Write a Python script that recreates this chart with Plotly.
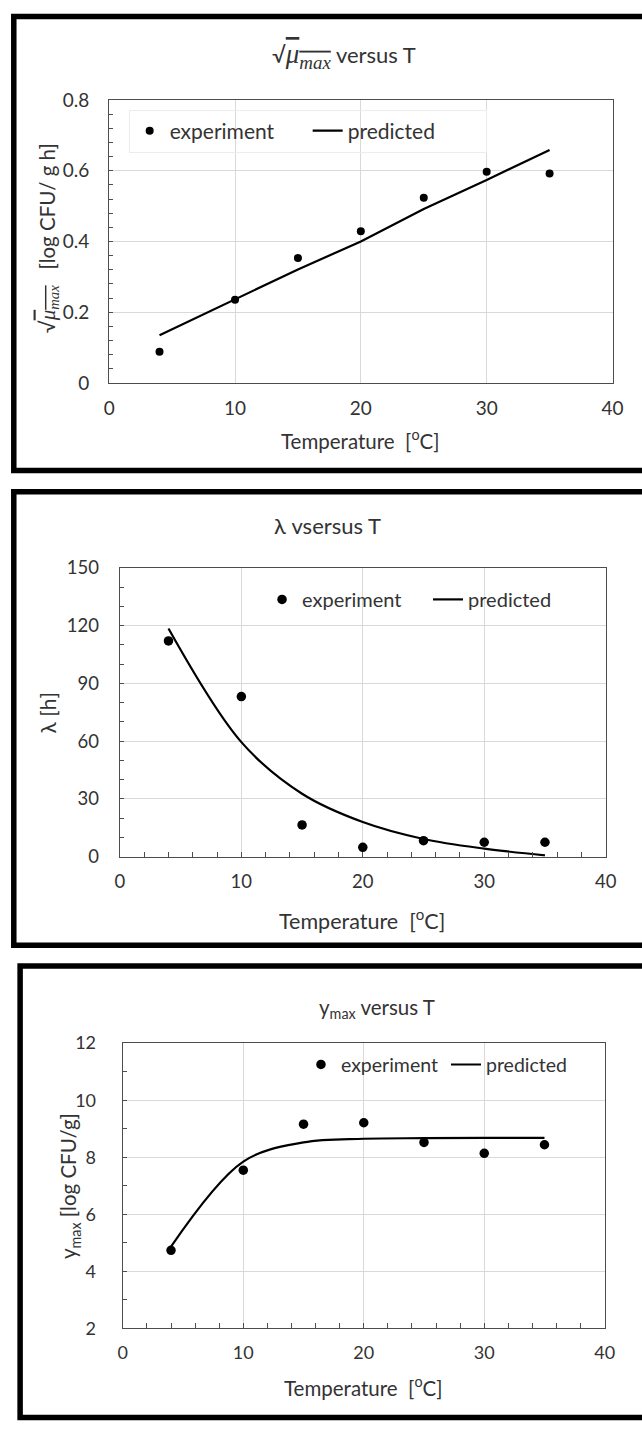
import plotly.graph_objects as go

W, H = 642, 1431

# ---------------- data ----------------
temp = [4, 10, 15, 20, 25, 30, 35]
mu_exp = [0.088, 0.235, 0.353, 0.429, 0.524, 0.597, 0.592]
mu_pred = [0.135, 0.237, 0.321, 0.400, 0.492, 0.574, 0.659]
lag_exp = [112.1, 83.2, 16.5, 4.9, 8.3, 7.5, 7.5]
lag_pred = [118.5, 59.5, 32.7, 18.0, 9.2, 4.2, 0.7]
ymax_exp = [4.74, 7.55, 9.16, 9.21, 8.52, 8.14, 8.44]
ymax_pred = [4.87, 7.85, 8.52, 8.65, 8.67, 8.68, 8.68]
x_ticks = [0, 10, 20, 30, 40]
mu_ticks = [0, 0.2, 0.4, 0.6, 0.8]
lag_ticks = [0, 30, 60, 90, 120, 150]
ymax_ticks = [2, 4, 6, 8, 10, 12]

FONT = "Lato"
TXT = "#333333"
FRAME = "#4d4d4d"
GRID = "#d9d9d9"


def px(x):
    return x / W


def py(y):
    return 1 - y / H


boxes = [(106, 623, 89.5, 377), (117, 616, 565, 858.5), (120, 615, 1048, 1338)]
tick_sizes = [19, 18.5, 18]
ystandoff = [15, 16, 22]

fig = go.Figure()

series = [
    (mu_exp, mu_pred, 8, "linear"),
    (lag_exp, lag_pred, 9.5, "spline"),
    (ymax_exp, ymax_pred, 9.5, "spline"),
]
legend_names = ["legend", "legend2", "legend3"]
for i, (ye, yp, ms, shape) in enumerate(series):
    ax = "" if i == 0 else str(i + 1)
    fig.add_trace(go.Scatter(x=temp, y=ye, mode="markers", name="experiment",
                             marker=dict(color="black", size=ms),
                             xaxis="x" + ax, yaxis="y" + ax, legend=legend_names[i]))
    fig.add_trace(go.Scatter(x=temp, y=yp, mode="lines", name="predicted",
                             line=dict(color="black", width=2.2, shape=shape),
                             xaxis="x" + ax, yaxis="y" + ax, legend=legend_names[i]))

yranges = [(0, 0.8, mu_ticks, 0.04), (0, 150, lag_ticks, 10), (2, 12, ymax_ticks, 1)]
xminor = [False, True, True]
layout = {}
for i, (b, (y0, y1, yt, ymin)) in enumerate(zip(boxes, yranges)):
    ax = "" if i == 0 else str(i + 1)
    x0, x1, yt_px, yb_px = b
    tf = dict(family=FONT, size=tick_sizes[i], color=TXT)
    xa = dict(domain=[px(x0), px(x1)], range=[0, 40], tickvals=x_ticks,
              showgrid=True, gridcolor=GRID, gridwidth=1,
              showline=True, linecolor=FRAME, linewidth=1.3, mirror=True,
              zeroline=False, tickfont=tf,
              ticklabelstandoff=8, anchor="y" + ax, fixedrange=True)
    if xminor[i]:
        xa.update(ticks="inside", ticklen=5, tickcolor=FRAME, tickwidth=1.2,
                  minor=dict(dtick=2, ticks="inside", ticklen=5, tickcolor=FRAME, tickwidth=1.2))
    else:
        xa.update(ticks="")
    ya = dict(domain=[py(yb_px), py(yt_px)], range=[y0, y1], tickvals=yt,
              showgrid=True, gridcolor=GRID, gridwidth=1,
              showline=True, linecolor=FRAME, linewidth=1.3, mirror=True,
              zeroline=False, tickfont=tf,
              ticks="inside", ticklen=4, tickcolor=FRAME, tickwidth=1.2,
              minor=dict(dtick=ymin, ticks="inside", ticklen=4, tickcolor=FRAME, tickwidth=1.2),
              ticklabelstandoff=ystandoff[i], anchor="x" + ax, fixedrange=True)
    layout["xaxis" + ax] = xa
    layout["yaxis" + ax] = ya


def math_mu(size):
    return ("<span style='font-family:Liberation Serif;font-size:%dpx;text-decoration:overline'>"
            "<i>μ<sub>max</sub></i></span>" % size)


titles = [
    ("√" + math_mu(27) + " versus T", 347, 45, 22),
    ("λ vsersus T", 330, 522, 22),
    ("y<sub>max</sub> versus T", 381, 1013, 20.5),
]
xtitles = [(364, 434, 20.5), (366, 922, 21.5), (367, 1397, 20.5)]
ytitles = [
    ("√" + math_mu(21) + "   [log CFU/ g h]", 43, 230, 20.5),
    ("λ [h]", 43, 712, 21),
    ("y<sub>max</sub> [log CFU/g]", 66, 1193, 20.5),
]
ann = []
for t, x, y, s in titles:
    ann.append(dict(text=t, x=px(x), y=py(y), xref="paper", yref="paper",
                    xanchor="center", yanchor="middle", showarrow=False,
                    font=dict(family=FONT, size=s, color=TXT)))
for x, y, s in xtitles:
    ann.append(dict(text="Temperature\u00a0 [<sup>o</sup>C]", x=px(x), y=py(y),
                    xref="paper", yref="paper", xanchor="center", yanchor="middle",
                    showarrow=False, font=dict(family=FONT, size=s, color=TXT)))
for t, x, y, s in ytitles:
    ann.append(dict(text=t, x=px(x), y=py(y), xref="paper", yref="paper",
                    xanchor="center", yanchor="middle", textangle=-90,
                    showarrow=False, font=dict(family=FONT, size=s, color=TXT)))

# thick black panel borders (right side runs off the picture)
frames = [(8, 4.5, 466), (8, 487.5, 948.5), (14.5, 969.5, 1428.5)]
shapes = []
for lx, ty, by in frames:
    shapes.append(dict(type="rect", xref="paper", yref="paper",
                       x0=px(lx), x1=px(W + 20), y0=py(by), y1=py(ty),
                       line=dict(color="black", width=5.5), layer="above"))

legends = [
    dict(x=px(126), y=py(121), entrywidth=133, bordercolor="#ececec", borderwidth=1,
         font=dict(family=FONT, size=21, color=TXT)),
    dict(x=px(263), y=py(597), entrywidth=121, borderwidth=0,
         font=dict(family=FONT, size=20, color=TXT)),
    dict(x=px(303), y=py(1070), entrywidth=100, borderwidth=0,
         font=dict(family=FONT, size=19.5, color=TXT)),
]
for name, lg in zip(legend_names, legends):
    lg.update(orientation="h", xanchor="left", yanchor="middle", xref="paper", yref="paper",
              bgcolor="rgba(0,0,0,0)", entrywidthmode="pixels")
    layout[name] = lg

fig.update_layout(width=W, height=H, margin=dict(l=0, r=0, t=0, b=0),
                  paper_bgcolor="white", plot_bgcolor="white",
                  annotations=ann, shapes=shapes, **layout)

fig.write_html("out.html", config={"displayModeBar": False})
